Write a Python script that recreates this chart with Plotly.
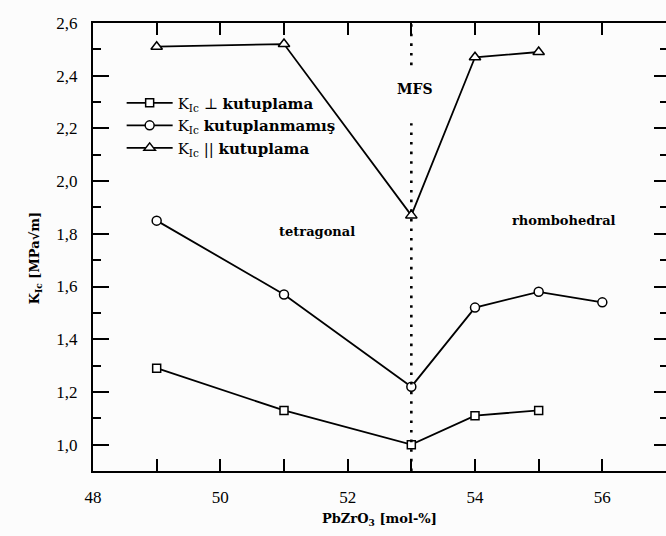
import plotly.graph_objects as go

# PbZrO3 content [mol-%]
x_perp = [49, 51, 53, 54, 55]
x_unpoled = [49, 51, 53, 54, 55, 56]
x_par = [49, 51, 53, 54, 55]

# Fracture toughness K_Ic [MPa*sqrt(m)]
k_perp = [1.29, 1.13, 1.00, 1.11, 1.13]
k_unpoled = [1.85, 1.57, 1.22, 1.52, 1.58, 1.54]
k_par = [2.51, 2.52, 1.87, 2.47, 2.49]

names = [
    "K<sub>Ic</sub> ⊥ <b>kutuplama</b>",
    "K<sub>Ic</sub> <b>kutuplanmamış</b>",
    "K<sub>Ic</sub> || <b>kutuplama</b>",
]

x_range = [48, 57]
y_range = [0.9, 2.6]
mfs_x = 53

SERIF = "DejaVu Serif"
TICKFONT = "Liberation Serif"

fig = go.Figure()

series = [
    (x_perp, k_perp, names[0], "square", 8),
    (x_unpoled, k_unpoled, names[1], "circle", 9),
    (x_par, k_par, names[2], "triangle-up", 10),
]
for xs, ys, name, sym, size in series:
    fig.add_trace(go.Scatter(
        x=xs, y=ys, name=name, mode="lines+markers",
        line=dict(color="black", width=1.8),
        marker=dict(symbol=sym, size=size, color="white",
                    line=dict(color="black", width=1.5)),
    ))

# empty trace so the right-hand tick axis is rendered
fig.add_trace(go.Scatter(x=[], y=[], yaxis="y2", showlegend=False,
                         hoverinfo="skip"))

# dotted morphotropic phase boundary, interrupted around its label
for y0, y1 in [(y_range[0], 2.22), (2.44, y_range[1])]:
    fig.add_shape(type="line", xref="x", yref="y", x0=mfs_x, x1=mfs_x,
                  y0=y0, y1=y1,
                  line=dict(color="black", width=2.6, dash="2.6px,7px"))

fig.add_annotation(x=53.05, y=2.35, xref="x", yref="y", text="<b>MFS</b>",
                   showarrow=False, font=dict(family=SERIF, size=14, color="black"))
fig.add_annotation(x=51.52, y=1.81, xref="x", yref="y", text="<b>tetragonal</b>",
                   showarrow=False, font=dict(family=SERIF, size=13, color="black"))
fig.add_annotation(x=55.39, y=1.85, xref="x", yref="y", text="<b>rhombohedral</b>",
                   showarrow=False, font=dict(family=SERIF, size=13, color="black"))

# axis titles
fig.add_annotation(x=0.5, y=-0.109, xref="paper", yref="paper",
                   text="<b>PbZrO<sub>3</sub> [mol-%]</b>", showarrow=False,
                   xanchor="center", yanchor="middle",
                   font=dict(family=SERIF, size=13, color="black"))
fig.add_annotation(x=-0.101, y=0.475, xref="paper", yref="paper",
                   text="<b>K<sub>Ic</sub> [MPa√m]</b>", showarrow=False,
                   textangle=-90, xanchor="center", yanchor="middle",
                   font=dict(family=SERIF, size=13, color="black"))

fig.update_layout(
    width=666, height=536,
    margin=dict(l=93, r=0, t=23, b=65),
    paper_bgcolor="#fcfcfc",
    plot_bgcolor="#fcfcfc",
    separators=",.",
    showlegend=True,
    legend=dict(
        x=0.05, y=0.858, xanchor="left", yanchor="top",
        bgcolor="rgba(0,0,0,0)", borderwidth=0,
        font=dict(family=SERIF, size=15, color="black"),
        itemwidth=46,
    ),
    xaxis=dict(
        range=x_range, dtick=2, tick0=48,
        showline=True, linewidth=2, linecolor="black", mirror="allticks",
        ticks="inside", ticklen=12, tickwidth=2, tickcolor="black",
        minor=dict(dtick=1, tick0=48, ticks="inside", ticklen=7,
                   tickwidth=2, tickcolor="black"),
        showgrid=False, zeroline=False,
        tickfont=dict(family=TICKFONT, size=17, color="black"),
        ticklabelstandoff=10,
    ),
    yaxis=dict(
        range=y_range, dtick=0.2, tick0=0, tickformat=".1f",
        showline=True, linewidth=2, linecolor="black",
        ticks="inside", ticklen=16, tickwidth=2, tickcolor="black",
        minor=dict(dtick=0.1, tick0=0, ticks="inside", ticklen=8,
                   tickwidth=2, tickcolor="black"),
        showgrid=False, zeroline=False,
        tickfont=dict(family=TICKFONT, size=17, color="black"),
        ticklabelstandoff=10,
    ),
    yaxis2=dict(
        range=y_range, dtick=0.2, tick0=0, overlaying="y", side="right",
        showline=False, showticklabels=False,
        ticks="inside", ticklen=12, tickwidth=2, tickcolor="black",
        minor=dict(dtick=0.1, tick0=0, ticks="inside", ticklen=6,
                   tickwidth=2, tickcolor="black"),
        showgrid=False, zeroline=False,
    ),
)

fig.write_html("out.html")
